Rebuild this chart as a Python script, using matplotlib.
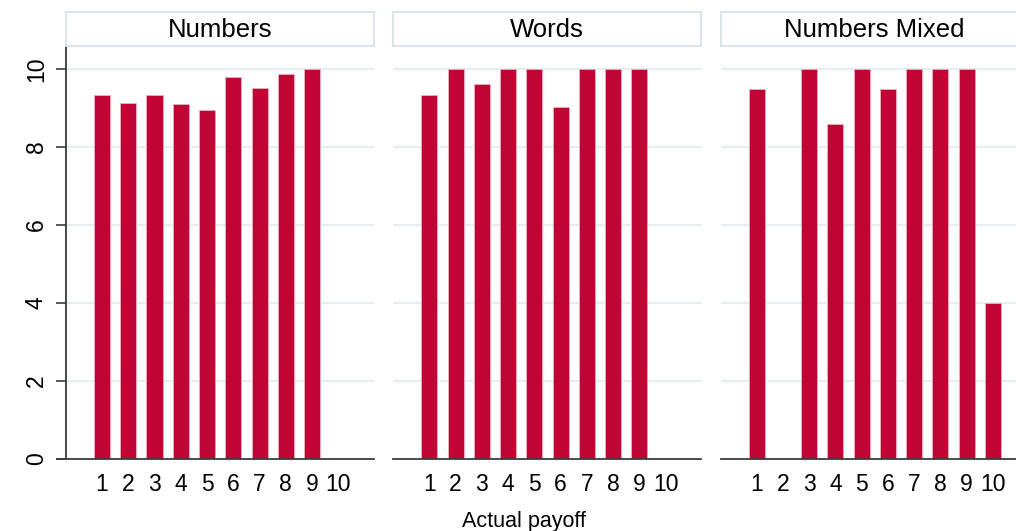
import numpy as np
import matplotlib
matplotlib.use("Agg")
import matplotlib.pyplot as plt

plt.rcParams['font.family'] = ['Liberation Sans', 'DejaVu Sans']

panel_titles = ["Numbers", "Words", "Numbers Mixed"]
payoff_ticks = list(range(1, 11))

num_x = [1, 2, 3, 4, 5, 6, 7, 8, 9]
num_y = [9.33, 9.12, 9.33, 9.09, 8.94, 9.80, 9.51, 9.87, 10.0]

words_x = [1, 2, 3, 4, 5, 6, 7, 8, 9]
words_y = [9.33, 10.0, 9.62, 10.0, 10.0, 9.02, 10.0, 10.0, 10.0]

mixed_x = [1, 3, 4, 5, 6, 7, 8, 9, 10]
mixed_y = [9.5, 10.0, 8.58, 10.0, 9.5, 10.0, 10.0, 10.0, 4.0]

series = [(num_x, num_y), (words_x, words_y), (mixed_x, mixed_y)]

W, H = 1016, 531
bar_col = '#c00534'
grid_col = '#e6eef1'
box_col = '#d3e2e7'
axis_col = '#3c3c3c'

fig = plt.figure(figsize=(W / 100, H / 100), dpi=100)

lefts = [66, 393.3, 720.7]
pw = 308
top_px, bot_px = 46, 459
xlo, xhi = -0.371, 11.36
px_per_unit = pw / (xhi - xlo)

for i, (xs, ys) in enumerate(series):
    ax = fig.add_axes([lefts[i] / W, 1 - bot_px / H, pw / W, (bot_px - top_px) / H])
    ax.bar(xs, ys, width=0.61, color=bar_col, edgecolor='#eab0bd', linewidth=0.6, zorder=3)
    ax.set_xlim(xlo, xhi)
    ax.set_ylim(0, 10.59)
    ax.set_yticks([0, 2, 4, 6, 8, 10])
    ax.set_xticks(payoff_ticks)
    ax.set_xticklabels([str(t) for t in payoff_ticks], fontsize=16.5)
    ax.tick_params(axis='x', length=0, pad=10)
    for g in [2, 4, 6, 8, 10]:
        ax.axhline(g, color=grid_col, lw=1.5, zorder=1)
    for s in ['top', 'right']:
        ax.spines[s].set_visible(False)
    ax.spines['bottom'].set_color(axis_col)
    ax.spines['bottom'].set_linewidth(1.3)
    ax.spines['bottom'].set_zorder(4)
    if i == 0:
        ax.spines['left'].set_color(axis_col)
        ax.spines['left'].set_linewidth(1.3)
        ax.spines['bottom'].set_bounds(xlo - 9 / px_per_unit, xhi)
        ax.tick_params(axis='y', length=7, width=1.2, color=axis_col, pad=6,
                       labelsize=16.5, labelrotation=90)
        for lab in ax.get_yticklabels():
            lab.set_va('center')
    else:
        ax.spines['left'].set_visible(False)
        ax.tick_params(axis='y', length=0, labelleft=False)

    hx = fig.add_axes([lefts[i] / W, 1 - 45.5 / H, pw / W, 33.5 / H])
    hx.set_xticks([])
    hx.set_yticks([])
    for s in hx.spines.values():
        s.set_color(box_col)
        s.set_linewidth(1.2)
    hx.text(0.5, 0.45, panel_titles[i], ha='center', va='center', fontsize=18.5,
            transform=hx.transAxes)

fig.text(523.7 / W, 1 - 522 / H, "Actual payoff", ha='center', va='center', fontsize=15.5)

fig.savefig("out.png", dpi=100)
